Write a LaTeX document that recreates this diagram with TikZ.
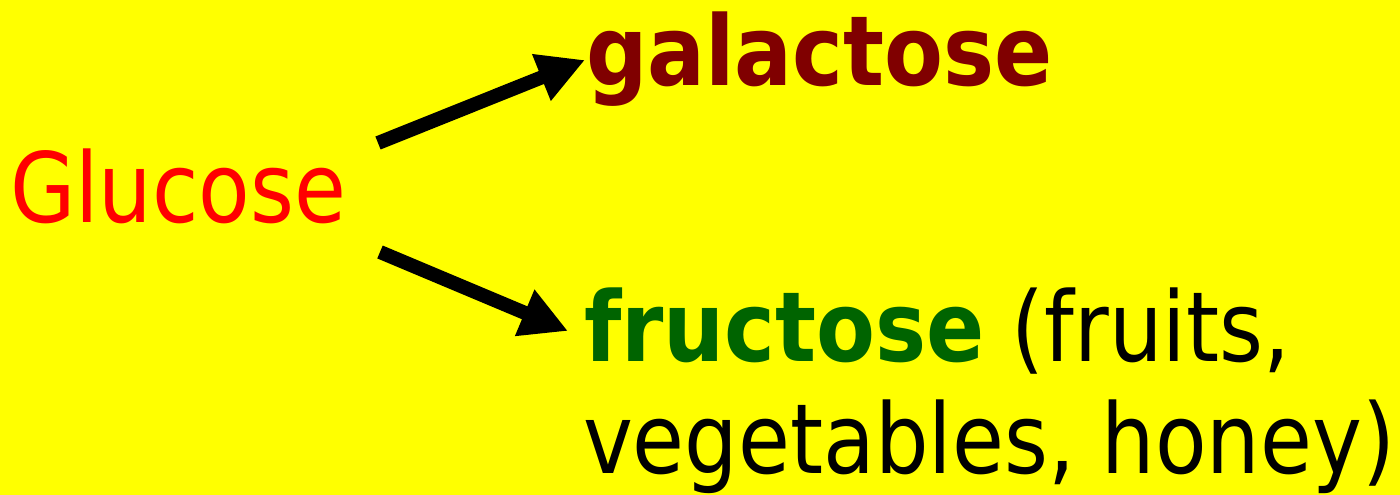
\documentclass[tikz,border=0pt]{standalone}
\usepackage{fontspec}
\setmainfont{DejaVu Sans}[UprightFeatures={FakeStretch=0.87},BoldFeatures={FakeStretch=0.885}]
\usetikzlibrary{arrows.meta}
\definecolor{bgyellow}{RGB}{255,255,0}
\definecolor{glured}{RGB}{255,0,0}
\definecolor{galred}{RGB}{128,0,0}
\definecolor{frugreen}{RGB}{0,100,0}
\tikzset{
  txt/.style={anchor=base west, inner sep=0pt, outer sep=0pt, font=\fontsize{97}{110}\selectfont},
  bigarrow/.style={line width=14pt, -{Triangle[length=47pt,width=47pt]}, black},
}
\begin{document}
\begin{tikzpicture}[x=1pt,y=-1pt]
\fill[bgyellow] (0,0) rectangle (1400,495);
\useasboundingbox (0,0) rectangle (1400,495);
\node[txt, text=glured] (glu) at (10,222) {Glucose};
\node[txt, text=galred] (gal) at (586,85) {\bfseries galactose};
\node[txt] (fru) at (584,361) {\textcolor{frugreen}{\bfseries fructose} (fruits,};
\node[txt] (veg) at (583,473) {vegetables, honey)};
\coordinate (a1s) at (378,143);
\coordinate (a1e) at (585,60);
\coordinate (a2s) at (380,252);
\coordinate (a2e) at (568,331);
\draw[bigarrow] (a1s) -- (a1e);
\draw[bigarrow] (a2s) -- (a2e);
\end{tikzpicture}
\end{document}
